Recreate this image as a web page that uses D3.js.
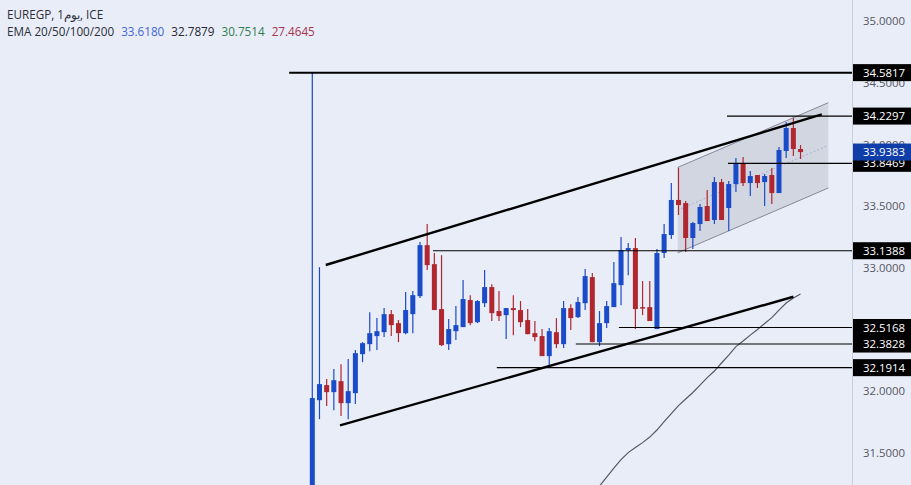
<!DOCTYPE html>
<html>
<head>
<meta charset="utf-8">
<script src="https://cdn.jsdelivr.net/npm/d3@7"></script>
<style>
  html, body { margin: 0; padding: 0; background: #e9edf8; overflow: hidden; }
  svg { display: block; font-family: "Open Sans", sans-serif; }
</style>
</head>
<body>
<script>
var open = [31.2, 31.928, 32.050, 31.993, 32.082, 31.904, 31.985, 32.301, 32.382, 32.447, 32.479, 32.625, 32.552, 32.471, 32.625, 32.771, 33.184, 33.030, 32.666, 32.382, 32.487, 32.520, 32.739, 32.560, 32.714, 32.844, 32.650, 32.617, 32.674, 32.658, 32.577, 32.471, 32.447, 32.285, 32.479, 32.382, 32.674, 32.601, 32.714, 32.925, 32.398, 32.552, 32.682, 32.860, 33.144, 33.160, 32.682, 32.682, 32.504, 33.120, 33.266, 33.550, 33.525, 33.242, 33.355, 33.501, 33.388, 33.695, 33.485, 33.679, 33.849, 33.687, 33.752, 33.695, 33.752, 33.606, 33.947, 34.133, 33.963];
var high = [34.58, 33.006, 32.099, 32.180, 32.220, 32.261, 32.334, 32.398, 32.641, 32.593, 32.674, 32.658, 32.577, 32.804, 32.812, 33.209, 33.355, 33.120, 33.103, 32.585, 32.690, 32.901, 32.779, 32.739, 32.982, 32.868, 32.812, 32.674, 32.779, 32.731, 32.666, 32.569, 32.504, 32.512, 32.593, 32.731, 32.706, 32.763, 32.990, 32.958, 32.650, 32.731, 33.047, 33.249, 33.201, 33.241, 32.893, 32.893, 33.152, 33.355, 33.687, 33.812, 33.541, 33.371, 33.517, 33.631, 33.736, 33.720, 33.704, 33.890, 33.898, 33.785, 33.752, 33.760, 33.809, 33.979, 34.182, 34.214, 33.995];
var low = [31.1, 31.774, 31.880, 31.847, 31.799, 31.774, 31.896, 32.236, 32.325, 32.334, 32.439, 32.447, 32.398, 32.463, 32.471, 32.755, 32.982, 32.658, 32.366, 32.334, 32.415, 32.520, 32.536, 32.552, 32.682, 32.569, 32.569, 32.423, 32.455, 32.520, 32.463, 32.406, 32.285, 32.188, 32.350, 32.350, 32.496, 32.593, 32.658, 32.398, 32.366, 32.512, 32.682, 32.698, 32.941, 32.504, 32.617, 32.569, 32.504, 33.080, 33.234, 33.428, 33.128, 33.153, 33.298, 33.379, 33.355, 33.388, 33.298, 33.614, 33.663, 33.582, 33.647, 33.501, 33.517, 33.606, 33.890, 33.906, 33.882];
var close = [31.945, 32.058, 31.993, 32.090, 31.904, 32.001, 32.309, 32.390, 32.471, 32.487, 32.625, 32.536, 32.471, 32.658, 32.779, 33.184, 33.022, 32.658, 32.374, 32.504, 32.536, 32.747, 32.552, 32.731, 32.844, 32.633, 32.609, 32.674, 32.658, 32.560, 32.463, 32.439, 32.285, 32.487, 32.382, 32.674, 32.593, 32.723, 32.933, 32.398, 32.552, 32.690, 32.876, 33.144, 33.160, 32.666, 32.674, 32.569, 33.120, 33.274, 33.550, 33.509, 33.242, 33.363, 33.493, 33.379, 33.695, 33.388, 33.679, 33.841, 33.687, 33.744, 33.687, 33.744, 33.606, 33.955, 34.133, 33.963, 33.938];

// EMA 50, starts at candle 40 (earlier part is below the visible range)
var emaStart = 40;
var ema50 = [31.232, 31.305, 31.378, 31.447, 31.503, 31.544, 31.584, 31.629, 31.686, 31.754, 31.819, 31.884, 31.937, 31.990, 32.050, 32.111, 32.164, 32.229, 32.293, 32.362, 32.407, 32.455, 32.500, 32.549, 32.597, 32.658, 32.715, 32.755, 32.788];

var priceTicks = [35, 34.5, 34, 33.5, 33, 32.5, 32, 31.5];

// horizontal levels: price and the candle they start from
var levelPrices = [34.5817, 34.2297, 33.8469, 33.1388, 32.5168, 32.3828, 32.1914];
var levelStarts = [-3.22, 57.76, 57.9, 16.8, 42.7, 36.7, 25.7];
var lastPrice = 33.9383;

// trend lines as [candle, price]
var upperTrend = [[1.87, 33.023], [70.96, 34.243]];
var lowerTrend = [[3.86, 31.724], [67.0, 32.766]];

// regression channel
var channelTop = [[50.9, 33.814], [71.87, 34.338]];
var channelBottom = [[50.9, 33.122], [71.87, 33.647]];

var emaNames = 'EMA 20/50/100/200';
var emaValues = ['33.6180', '32.7879', '30.7514', '27.4645'];
var emaColors = ['#3f66d8', '#23262f', '#2f7d4f', '#a5344a'];

var blue = '#1a4bc9';
var red = '#b0272f';
var width = 911;
var height = 485;
var axisX = 853;
var labelFont = 11.4;
var titleFont = 11.7;

var svg = d3.select('body').append('svg').attr('width', width).attr('height', height);

var x = d3.scaleLinear().domain([0, 68]).range([312.3, 800.54]);
var y = d3.scaleLinear().domain([31.5, 35]).range([453, 21]);
var line = d3.line()
  .x(function (d) { return x(d[0]); })
  .y(function (d) { return y(d[1]); });

svg.append('rect').attr('width', width).attr('height', height).attr('fill', '#e9edf8');

// channel
svg.append('path')
  .attr('d', line(channelTop.concat(channelBottom.slice().reverse())) + 'Z')
  .attr('fill', '#787b86')
  .attr('fill-opacity', 0.2);
[channelTop, channelBottom].forEach(function (l) {
  svg.append('path').attr('d', line(l)).attr('stroke', '#85889a').attr('stroke-width', 1).attr('fill', 'none');
});
svg.append('path')
  .attr('d', line([
    [channelTop[0][0], (channelTop[0][1] + channelBottom[0][1]) / 2],
    [channelTop[1][0], (channelTop[1][1] + channelBottom[1][1]) / 2]
  ]))
  .attr('stroke', '#9aa9d6')
  .attr('stroke-width', 1)
  .attr('stroke-dasharray', '1.5,2.5')
  .attr('fill', 'none');

// ema
svg.append('path')
  .attr('d', line(ema50.map(function (v, i) { return [emaStart + i, v]; })))
  .attr('stroke', '#555862')
  .attr('stroke-width', 1.2)
  .attr('fill', 'none');

// candles
var candles = svg.append('g').selectAll('g')
  .data(d3.range(open.length))
  .enter()
  .append('g')
  .attr('fill', function (i) { return close[i] >= open[i] ? blue : red; })
  .attr('stroke', function (i) { return close[i] >= open[i] ? blue : red; });

candles.append('line')
  .attr('x1', function (i) { return x(i); })
  .attr('x2', function (i) { return x(i); })
  .attr('y1', function (i) { return y(high[i]); })
  .attr('y2', function (i) { return y(low[i]); })
  .attr('stroke-width', 1.2);

candles.append('rect')
  .attr('x', function (i) { return x(i) - 2.5; })
  .attr('width', 5)
  .attr('y', function (i) { return y(Math.max(open[i], close[i])); })
  .attr('height', function (i) { return Math.max(1.5, Math.abs(y(open[i]) - y(close[i]))); })
  .attr('stroke', 'none');

// levels
svg.append('g').selectAll('line')
  .data(levelPrices)
  .enter()
  .append('line')
  .attr('x1', function (d, i) { return x(levelStarts[i]); })
  .attr('x2', axisX)
  .attr('y1', function (d) { return y(d); })
  .attr('y2', function (d) { return y(d); })
  .attr('stroke', '#000')
  .attr('stroke-width', function (d, i) { return i === 0 ? 2 : 1.1; });

// trend lines
[upperTrend, lowerTrend].forEach(function (l) {
  svg.append('path').attr('d', line(l)).attr('stroke', '#000').attr('stroke-width', 2.4).attr('fill', 'none');
});

// price axis
svg.append('rect').attr('x', axisX).attr('width', width - axisX).attr('height', height).attr('fill', '#e9edf8');
svg.append('line').attr('x1', axisX - 0.5).attr('x2', axisX - 0.5).attr('y1', 0).attr('y2', height)
  .attr('stroke', '#c8cddc');

var axis = svg.append('g')
  .attr('transform', 'translate(' + axisX + ',0)')
  .call(d3.axisRight(y).tickValues(priceTicks).tickSize(0).tickPadding(10).tickFormat(function (d) { return d.toFixed(4); }));
axis.select('.domain').remove();
axis.selectAll('text').attr('fill', '#555862').attr('font-size', labelFont).attr('font-family', '"Open Sans", sans-serif');

function priceLabel(price, fill) {
  var g = svg.append('g').attr('transform', 'translate(' + axisX + ',' + y(price) + ')');
  g.append('rect').attr('x', 0).attr('y', -8.5).attr('width', width - axisX).attr('height', 17).attr('fill', fill);
  g.append('text').attr('x', 10).attr('y', 0).attr('dy', '0.36em')
    .attr('fill', '#fff').attr('font-size', labelFont).attr('font-weight', 500).text(price.toFixed(4));
}

levelPrices.forEach(function (p) { priceLabel(p, '#000'); });
priceLabel(lastPrice, '#103ea8');

// title
svg.append('text').attr('x', 7).attr('y', 19).attr('font-size', titleFont).attr('fill', '#2a2e39')
  .text('EUREGP, 1يوم, ICE');

var legend = svg.append('text').attr('x', 7).attr('y', 36).attr('font-size', titleFont).attr('fill', '#2a2e39');
legend.append('tspan').text(emaNames);
emaValues.forEach(function (v, i) {
  legend.append('tspan').attr('dx', 7).attr('fill', emaColors[i]).text(v);
});
</script>
</body>
</html>
